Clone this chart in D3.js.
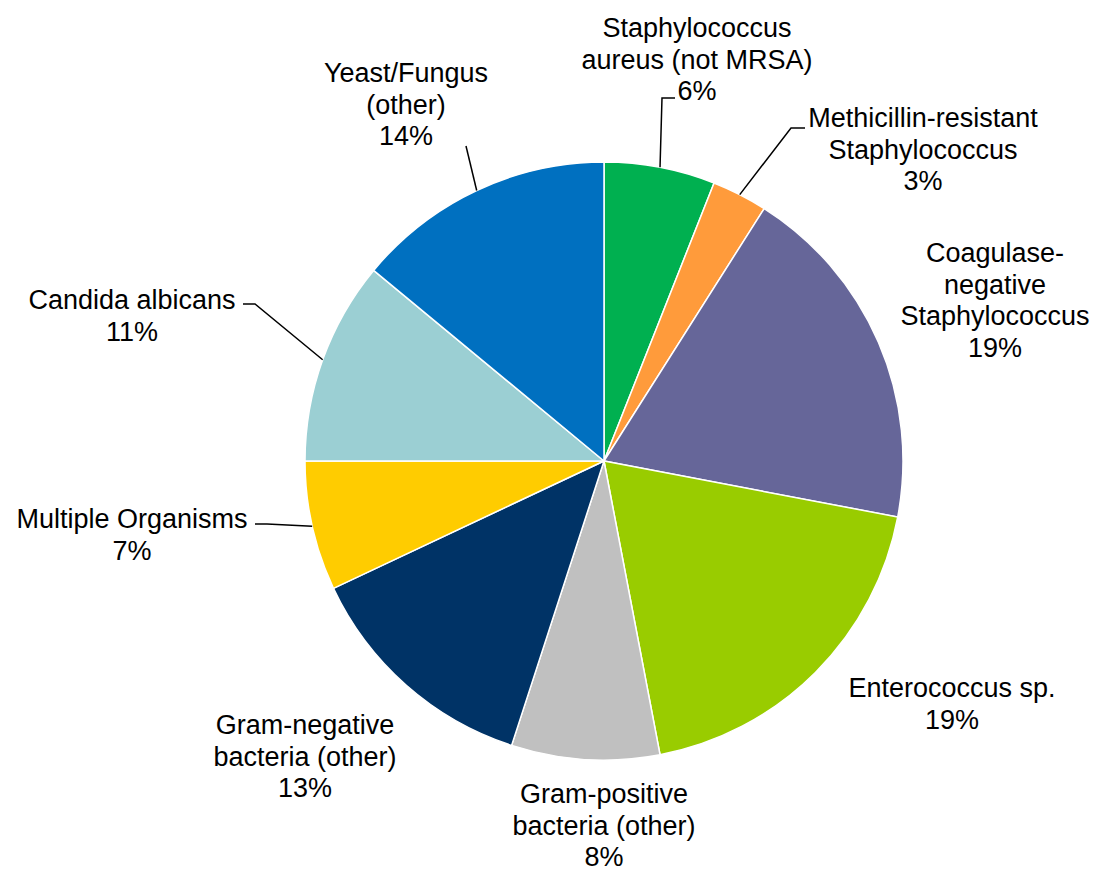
<!DOCTYPE html>
<html>
<head>
<meta charset="utf-8">
<script src="https://cdn.jsdelivr.net/npm/d3@7/dist/d3.min.js"></script>
<style>
  html, body { margin: 0; padding: 0; background: #ffffff; }
  svg text { font-family: Arial, "Liberation Sans", sans-serif; font-size: 27px; fill: #000; }
</style>
</head>
<body>
<svg id="chart" width="1095" height="869"></svg>
<script>
// Organism categories, clockwise from 12 o'clock
const categories = [
  ["Staphylococcus", "aureus (not MRSA)"],
  ["Methicillin-resistant", "Staphylococcus"],
  ["Coagulase-", "negative", "Staphylococcus"],
  ["Enterococcus sp."],
  ["Gram-positive", "bacteria (other)"],
  ["Gram-negative", "bacteria (other)"],
  ["Multiple Organisms"],
  ["Candida albicans"],
  ["Yeast/Fungus", "(other)"]
];
// Share of isolates, percent
const shares = [6, 3, 19, 19, 8, 13, 7, 11, 14];
const colors = ["#00B050", "#FF9B3B", "#666699", "#99CC00", "#C0C0C0",
                "#003366", "#FFCC00", "#9BCFD3", "#0070C0"];

// Label layout: centre x, baseline of first line, and leader elbow (if any)
const labelLayout = [
  { x: 697, y: 37,  leader: [[675, 98], [662, 98]] },
  { x: 923, y: 127, leader: [[805, 128], [791, 128]] },
  { x: 995, y: 262, leader: null },
  { x: 952, y: 697, leader: null },
  { x: 604, y: 803, leader: null },
  { x: 305, y: 734, leader: null },
  { x: 132, y: 528, leader: [[255, 524], [267, 524]] },
  { x: 132, y: 309, leader: [[243, 304], [255, 304]] },
  { x: 406, y: 82,  leader: [[466, 146]] }
];

const cx = 604, cy = 461, radius = 299, lineGap = 31.5;

const svg = d3.select("#chart");
const g = svg.append("g").attr("transform", `translate(${cx},${cy})`);

const pie = d3.pie().sort(null).startAngle(0).endAngle(2 * Math.PI);
const arcs = pie(shares);
const arc = d3.arc().innerRadius(0).outerRadius(radius);

g.selectAll("path.slice")
  .data(arcs)
  .join("path")
  .attr("class", "slice")
  .attr("d", arc)
  .attr("fill", (d, i) => colors[i])
  .attr("stroke", "#ffffff")
  .attr("stroke-width", 1.5);

// Leader lines run from the label to the slice edge at its mid-angle
const line = d3.line();
arcs.forEach((d, i) => {
  const lay = labelLayout[i];
  if (!lay.leader) return;
  const mid = (d.startAngle + d.endAngle) / 2;
  const edge = [cx + radius * Math.sin(mid), cy - radius * Math.cos(mid)];
  svg.append("path")
    .attr("d", line([...lay.leader, edge]))
    .attr("fill", "none")
    .attr("stroke", "#000")
    .attr("stroke-width", 1.5);
});

// Category labels with the percentage on the last line
arcs.forEach((d, i) => {
  const lay = labelLayout[i];
  const lines = [...categories[i], d3.format(".0f")(d.data) + "%"];
  const t = svg.append("text")
    .attr("text-anchor", "middle")
    .attr("x", lay.x)
    .attr("y", lay.y);
  lines.forEach((s, k) => {
    t.append("tspan")
      .attr("x", lay.x)
      .attr("dy", k === 0 ? 0 : lineGap)
      .text(s);
  });
});
</script>
</body>
</html>
